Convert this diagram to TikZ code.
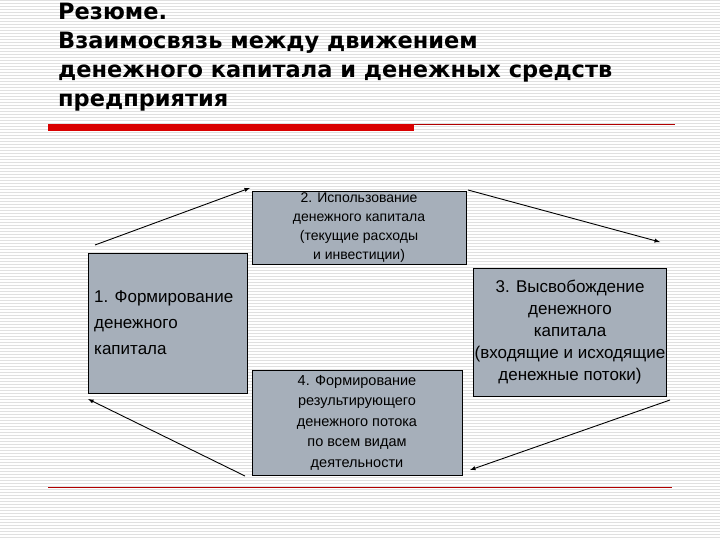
\documentclass[tikz,border=0pt]{standalone}
\usepackage{fontspec}
\setmainfont{Liberation Sans}
\newfontfamily\titlefont{DejaVu Sans}
\begin{document}
\begin{tikzpicture}[x=1pt,y=-1pt,
  box/.style={draw=black,line width=0.8pt,fill={rgb,255:red,166;green,175;blue,186},inner sep=1pt,align=center},
  arr/.style={-latex,line width=0.9pt}]
\useasboundingbox (0,0) rectangle (720,540);
\fill[white] (0,0) rectangle (720,540);
\foreach \y in {0,3,...,540} \draw[black!12,line width=0.6pt] (0,\y) -- (720,\y);
\node[anchor=north west,align=left,font=\titlefont\bfseries\fontsize{22.5}{29}\selectfont,inner sep=0pt] (title) at (58,3)
 {Резюме.\\Взаимосвязь между движением\\денежного капитала и денежных средств\\предприятия};
\fill[red!85!black] (48,124) rectangle (414,131);
\draw[red!70!black,line width=0.6pt] (414,124) -- (675,124);
\draw[red!70!black,line width=0.6pt] (48,487) -- (672,487);
\node[box,minimum width=159pt,minimum height=140pt] (b1) at (167.5,323) {};
\node[anchor=north west,align=left,font=\fontsize{17}{26}\selectfont,inner sep=0pt] (t1) at (94,291) {1. Формирование\\денежного\\капитала};
\node[box,minimum width=214pt,minimum height=73pt,font=\fontsize{14}{19}\selectfont] (b2) at (359,227.5) {2. Использование\\денежного капитала\\(текущие расходы\\и инвестиции)};
\node[box,minimum width=193pt,minimum height=128pt,font=\fontsize{17}{22}\selectfont] (b3) at (570,332) {3. Высвобождение\\денежного\\капитала\\(входящие и исходящие\\денежные потоки)};
\node[box,minimum width=210pt,minimum height=105pt,font=\fontsize{14.5}{20.5}\selectfont] (b4) at (357,422.5) {4. Формирование\\результирующего\\денежного потока\\по всем видам\\деятельности};
\coordinate (a1s) at (95,245); \coordinate (a1e) at (250,188);
\coordinate (a2s) at (468,190); \coordinate (a2e) at (660,242);
\coordinate (a3s) at (670,400); \coordinate (a3e) at (470,470);
\coordinate (a4s) at (245,476); \coordinate (a4e) at (88,399);
\draw[arr] (a1s) -- (a1e);
\draw[arr] (a2s) -- (a2e);
\draw[arr] (a3s) -- (a3e);
\draw[arr] (a4s) -- (a4e);
\end{tikzpicture}
\end{document}
